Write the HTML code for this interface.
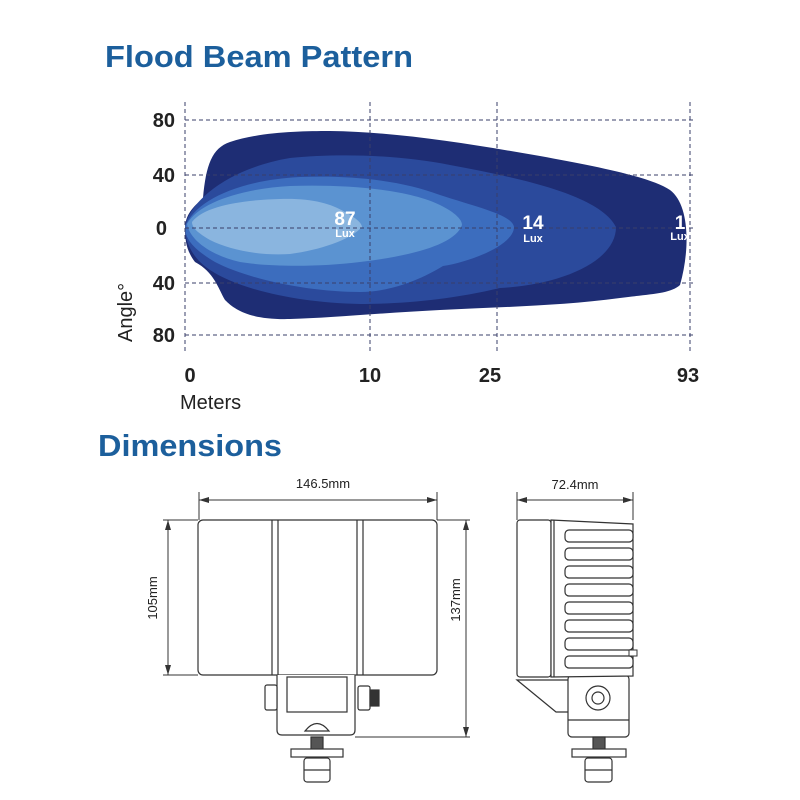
<!DOCTYPE html>
<html><head><meta charset="utf-8"><style>
html,body{margin:0;padding:0;background:#fff;}
svg{display:block;font-family:"Liberation Sans",sans-serif;}
</style></head><body>
<svg width="800" height="800" viewBox="0 0 800 800" xmlns="http://www.w3.org/2000/svg">
<text x="105" y="67" font-size="31" font-weight="bold" fill="#1c5f9c" textLength="308" lengthAdjust="spacingAndGlyphs">Flood Beam Pattern</text>
<text x="98" y="456" font-size="31" font-weight="bold" fill="#1c5f9c" textLength="184" lengthAdjust="spacingAndGlyphs">Dimensions</text>

<!-- beam shapes -->
<path d="M185,227 C186,212 196,205 203,198 C206,165 212,148 230,142 C260,132 300,131 330,131 C400,132 470,144 540,156 C600,167 650,177 670,190 C690,205 690,250 680,285 C670,294 650,294 620,298 C560,306 500,307 440,310 C380,313 330,318 290,319 C250,320 235,310 225,300 C218,288 214,272 195,262 C186,250 185,240 185,227 Z" fill="#1e2d74"/>
<path d="M185,227 C190,200 230,168 290,158 C340,153 400,155 450,165 C520,178 600,195 616,227 C616,262 560,285 500,288 C450,300 400,304 360,304 C300,303 240,290 210,270 C192,258 185,242 185,227 Z" fill="#2b4a9c"/>
<path d="M185,227 C195,200 240,180 300,177 C350,175 400,180 440,195 C480,208 512,215 514,227 C514,245 470,262 443,266 C420,280 390,292 360,292 C310,292 250,280 215,262 C195,250 185,240 185,227 Z" fill="#3c6dbe"/>
<path d="M187,224 C200,200 250,188 290,186 C350,184 410,190 440,205 C460,215 462,222 462,225 C455,245 410,256 360,262 C320,267 270,267 240,262 C210,255 190,240 187,224 Z" fill="#5b93d1"/>
<path d="M192,222 C205,205 245,200 280,199 C310,198 330,203 345,212 C360,220 362,225 362,227 C350,240 320,250 290,254 C260,256 230,250 210,240 C198,233 192,228 192,222 Z" fill="#8ab5df"/>

<!-- grid -->
<g stroke="#3a3f6a" stroke-width="1" stroke-dasharray="4,3" fill="none">
<line x1="185" y1="120" x2="695" y2="120"/>
<line x1="185" y1="175" x2="695" y2="175"/>
<line x1="185" y1="228" x2="695" y2="228"/>
<line x1="185" y1="283" x2="695" y2="283"/>
<line x1="185" y1="335" x2="695" y2="335"/>
<line x1="185" y1="102" x2="185" y2="352"/>
<line x1="370" y1="102" x2="370" y2="352"/>
<line x1="497" y1="102" x2="497" y2="352"/>
<line x1="690" y1="102" x2="690" y2="352"/>
</g>
<g fill="#fff" font-weight="bold" text-anchor="middle">
<text x="345" y="225" font-size="19">87</text><text x="345" y="237" font-size="11">Lux</text>
<text x="533" y="229" font-size="19">14</text><text x="533" y="242" font-size="11">Lux</text>
<text x="680" y="229" font-size="19">1</text><text x="680" y="240" font-size="11">Lux</text>
</g>
<g font-size="20" font-weight="bold" fill="#222" text-anchor="end">
<text x="175" y="127">80</text><text x="175" y="182">40</text><text x="167" y="235">0</text>
<text x="175" y="290">40</text><text x="175" y="342">80</text>
</g>
<text transform="translate(132,342) rotate(-90)" font-size="20" fill="#222">Angle°</text>
<g font-size="20" font-weight="bold" fill="#222" text-anchor="middle">
<text x="190" y="382">0</text><text x="370" y="382">10</text><text x="490" y="382">25</text><text x="688" y="382">93</text>
</g>
<text x="180" y="409" font-size="20" fill="#222">Meters</text>

<!-- dimensions front -->
<g stroke="#333" stroke-width="1" fill="none">
<line x1="199" y1="492" x2="199" y2="520"/><line x1="437" y1="492" x2="437" y2="520"/>
<line x1="199" y1="500" x2="437" y2="500"/>
<line x1="163" y1="520" x2="198" y2="520"/><line x1="163" y1="675" x2="198" y2="675"/>
<line x1="168" y1="520" x2="168" y2="675"/>
<line x1="437" y1="520" x2="470" y2="520"/><line x1="355" y1="737" x2="470" y2="737"/>
<line x1="466" y1="520" x2="466" y2="737"/>
<line x1="517" y1="492" x2="517" y2="520"/><line x1="633" y1="492" x2="633" y2="520"/>
<line x1="517" y1="500" x2="633" y2="500"/>
</g>
<g fill="#333">
<polygon points="199,500 209,497 209,503"/><polygon points="437,500 427,497 427,503"/>
<polygon points="168,520 165,530 171,530"/><polygon points="168,675 165,665 171,665"/>
<polygon points="466,520 463,530 469,530"/><polygon points="466,737 463,727 469,727"/>
<polygon points="517,500 527,497 527,503"/><polygon points="633,500 623,497 623,503"/>
</g>
<text x="323" y="488" font-size="13" fill="#222" text-anchor="middle">146.5mm</text>
<text x="575" y="489" font-size="13" fill="#222" text-anchor="middle">72.4mm</text>
<text transform="translate(157,598) rotate(-90)" font-size="13" fill="#222" text-anchor="middle">105mm</text>
<text transform="translate(460,600) rotate(-90)" font-size="13" fill="#222" text-anchor="middle">137mm</text>

<g stroke="#333" stroke-width="1.2" fill="#fff">
<rect x="198" y="520" width="239" height="155" rx="5"/>
<line x1="272" y1="520" x2="272" y2="675"/><line x1="278" y1="520" x2="278" y2="675"/>
<line x1="357" y1="520" x2="357" y2="675"/><line x1="363" y1="520" x2="363" y2="675"/>
<path d="M277,675 L277,730 Q277,735 282,735 L350,735 Q355,735 355,730 L355,675"/>
<rect x="287" y="677" width="60" height="35"/>
<rect x="265" y="685" width="12" height="25" rx="2"/>
<rect x="358" y="686" width="12" height="24" rx="2"/><rect x="370" y="690" width="9" height="16" fill="#333"/>
<path d="M305,731 Q317,716 329,731 Z"/>
<rect x="311" y="737" width="12" height="13" fill="#555"/>
<rect x="291" y="749" width="52" height="8"/>
<rect x="304" y="758" width="26" height="24" rx="3"/>
<line x1="304" y1="770" x2="330" y2="770"/>
</g>

<!-- side view -->
<g stroke="#333" stroke-width="1.2" fill="#fff">
<path d="M517,680 L556,712 L571,712 L571,680 Z"/>
<rect x="568" y="675" width="61" height="62" rx="4"/>
<path d="M568,720 L629,720"/>
<circle cx="598" cy="698" r="12"/><circle cx="598" cy="698" r="6"/>
<rect x="517" y="520" width="34" height="157" rx="3"/>
<path d="M551,520 L633,524 L633,676 L551,677 Z"/>
<line x1="554" y1="520" x2="554" y2="677"/>
<rect x="593" y="737" width="12" height="12" fill="#555"/>
<rect x="572" y="749" width="54" height="8"/>
<rect x="585" y="758" width="27" height="24" rx="3"/>
<line x1="585" y1="770" x2="612" y2="770"/>
</g>
<g stroke="#333" stroke-width="1.2" fill="#fff">
<rect x="565" y="530" width="68" height="12" rx="4"/>
<rect x="565" y="548" width="68" height="12" rx="4"/>
<rect x="565" y="566" width="68" height="12" rx="4"/>
<rect x="565" y="584" width="68" height="12" rx="4"/>
<rect x="565" y="602" width="68" height="12" rx="4"/>
<rect x="565" y="620" width="68" height="12" rx="4"/>
<rect x="565" y="638" width="68" height="12" rx="4"/>
<rect x="565" y="656" width="68" height="12" rx="4"/>
</g>
<rect x="629" y="650" width="8" height="6" fill="#fff" stroke="#333"/>
</svg>
</body></html>
